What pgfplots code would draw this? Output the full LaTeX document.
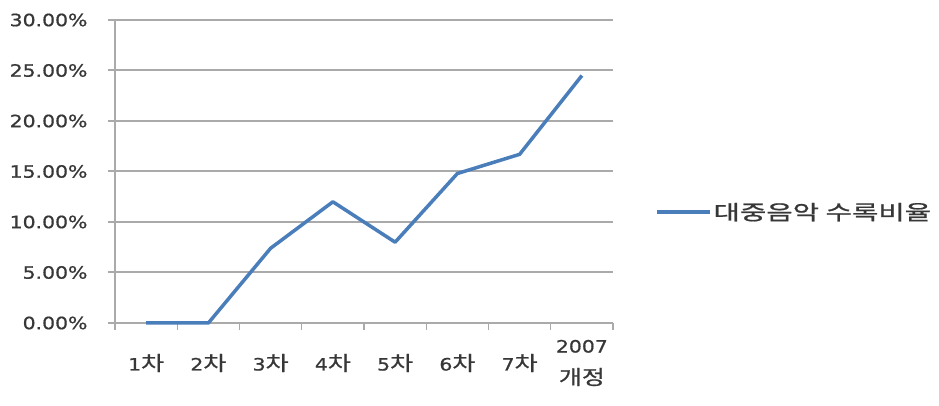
\documentclass[border=0pt]{standalone}
\usepackage{pgfplots}
\pgfplotsset{compat=1.18}
\usepackage{fontspec}
\setmainfont{DejaVu Sans}[FakeStretch=1.2, FakeBold=0.8]
\newfontfamily\cjk{Noto Sans CJK KR}[FakeStretch=1.25, FakeBold=0.8]
\newfontfamily\cjkwide{Noto Sans CJK KR}[FakeStretch=1.4, FakeBold=0.8]
\newcommand{\K}[1]{{\cjk\fontsize{20}{22}\selectfont #1}}
\definecolor{lineblue}{RGB}{74,126,187}
\definecolor{gridgray}{RGB}{170,170,170}
\definecolor{txt}{RGB}{55,55,55}
\begin{document}
\begin{tikzpicture}
\path[use as bounding box] (-115pt,-83pt) rectangle (824pt,323pt);
\begin{axis}[
  at={(0pt,0pt)}, anchor=south west,
  scale only axis, width=498pt, height=303pt,
  xmin=0.5, xmax=8.5, ymin=0, ymax=30,
  axis x line=bottom, axis y line=left,
  axis line style={-, gridgray, line width=1.2pt},
  ytick={0,5,...,30},
  ymajorgrids,
  grid style={gridgray, line width=2pt},
  xtick={0.5,1.5,...,8.5},
  xticklabels={},
  tick align=outside,
  x tick style={gridgray, line width=1.2pt},
  y tick style={gridgray, line width=2pt},
  major tick length=7pt,
  extra x ticks={1,...,8},
  extra x tick labels={1\K{차}, 2\K{차}, 3\K{차}, 4\K{차}, 5\K{차}, 6\K{차}, 7\K{차}, {2007\\[12pt]\K{개정}}},
  extra x tick style={major tick length=0pt, xticklabel style={align=center, anchor=center, yshift=-40pt, text=txt, font=\fontsize{17}{20}\selectfont}},
  /pgf/number format/assume math mode=true,
  yticklabel={\pgfmathprintnumber[fixed, fixed zerofill, precision=2]{\tick}\%},
  yticklabel style={text=txt, font=\fontsize{17}{20}\selectfont, xshift=-17pt},
  legend style={draw=none, at={(axis description cs:1.084,0.366)}, anchor=west, font=\cjkwide\fontsize{20.5}{22}\selectfont, text=txt, inner sep=0pt},
  legend image code/.code={\draw[#1] (0pt,0pt) -- (53pt,0pt);},
  clip=false,
]
\addplot[lineblue, line width=3.5pt, line join=round] coordinates {
  (1,0) (2,0) (3,7.4) (4,12.0) (5,8.0) (6,14.8) (7,16.7) (8,24.5)
};
\addlegendentry{대중음악 수록비율}
\end{axis}
\end{tikzpicture}
\end{document}
